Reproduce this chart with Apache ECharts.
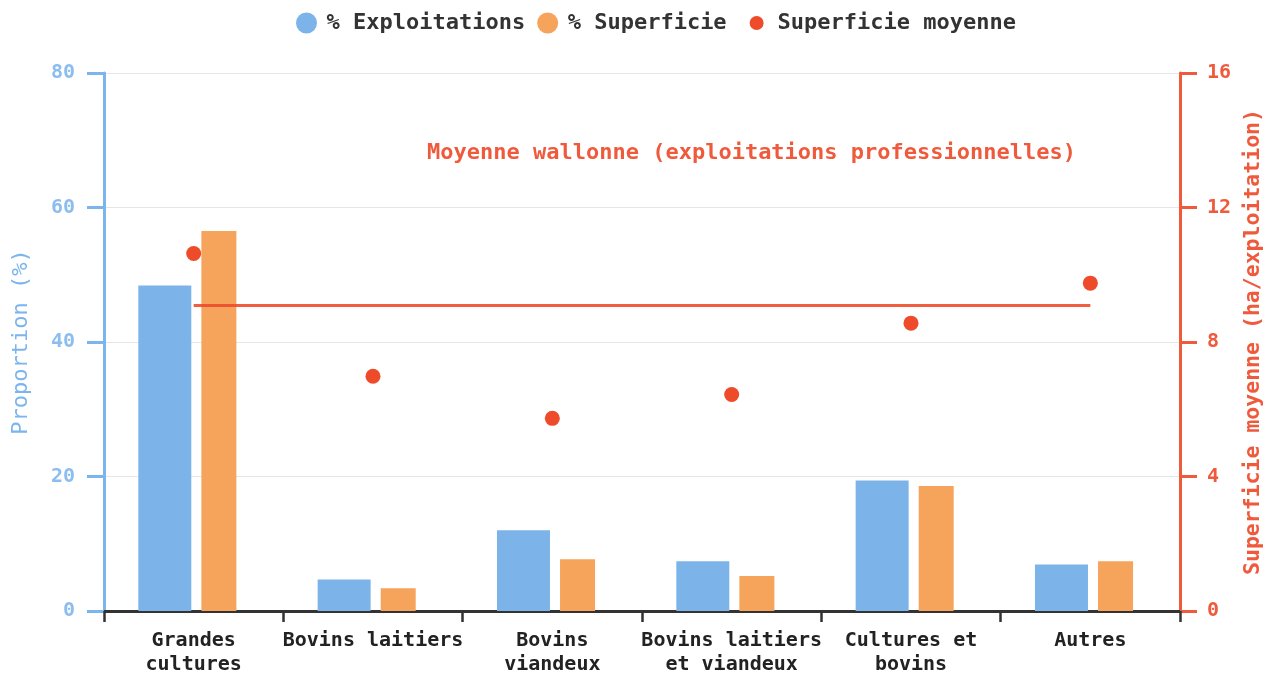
<!DOCTYPE html>
<html>
<head>
<meta charset="utf-8">
<style>
  html, body { margin: 0; padding: 0; background: #ffffff; }
  #chart { width: 1265px; height: 675px; }
</style>
<script src="https://cdn.jsdelivr.net/npm/echarts@6/dist/echarts.min.js"></script>
</head>
<body>
<div id="chart"></div>
<script>
// Orientations technico-économiques : parts des exploitations et de la superficie
const categories = [
  'Grandes\ncultures',
  'Bovins laitiers',
  'Bovins\nviandeux',
  'Bovins laitiers\net viandeux',
  'Cultures et\nbovins',
  'Autres'
];
const pctExploitations = [48.4, 4.7, 12.0, 7.4, 19.4, 6.9];
const pctSuperficie = [56.5, 3.4, 7.7, 5.2, 18.6, 7.4];
const superficieMoyenne = [10.63, 6.98, 5.73, 6.44, 8.56, 9.75];
const moyenneWallonne = 9.08;
const leftTicks = [0, 80, 20];   // min, max, interval
const rightTicks = [0, 16, 4];

const FONT = "'DejaVu Sans Mono', monospace";
const BLUE = '#7cb4ea';
const ORANGE = '#f6a35b';
const RED = '#ee4b2b';
const AXIS_BLUE = '#7cb5ec';
const AXIS_RED = '#f05a3c';

// smaller round marker for the scatter entry of the legend
const smallDot = 'image://data:image/svg+xml;utf8,' + encodeURIComponent(
  '<svg xmlns="http://www.w3.org/2000/svg" width="30" height="21" viewBox="0 0 30 21">' +
  '<circle cx="18" cy="10.5" r="7" fill="' + RED + '"/></svg>');

const chart = echarts.init(document.getElementById('chart'), null, { renderer: 'canvas' });

chart.setOption({
  animation: false,
  backgroundColor: '#ffffff',
  textStyle: { fontFamily: FONT },
  legend: {
    left: 291,
    top: 7,
    itemWidth: 30,
    itemHeight: 21,
    itemGap: 12,
    textStyle: { fontFamily: FONT, fontSize: 22, fontWeight: 'bold', color: '#333333' },
    data: [
      { name: '% Exploitations', icon: 'circle' },
      { name: '% Superficie', icon: 'circle' },
      { name: 'Superficie moyenne', icon: smallDot, textStyle: { padding: [0, 0, 0, 4] } }
    ]
  },
  grid: { left: 104, right: 85, top: 73, bottom: 64, containLabel: false, outerBoundsMode: 'none' },
  xAxis: {
    type: 'category',
    data: categories,
    boundaryGap: true,
    axisLine: { lineStyle: { color: '#333333', width: 3 } },
    axisTick: { show: true, length: 11, lineStyle: { color: '#333333', width: 2.5 } },
    axisLabel: {
      interval: 0,
      margin: 18,
      fontFamily: FONT,
      fontSize: 20,
      fontWeight: 'bold',
      color: '#222222',
      lineHeight: 24
    },
    splitLine: { show: false }
  },
  yAxis: [
    {
      type: 'value',
      min: leftTicks[0],
      max: leftTicks[1],
      interval: leftTicks[2],
      name: 'Proportion (%)',
      nameLocation: 'middle',
      nameGap: 72,
      nameTextStyle: { fontFamily: FONT, fontSize: 22, color: AXIS_BLUE },
      axisLine: { show: true, lineStyle: { color: AXIS_BLUE, width: 3 } },
      axisTick: { show: true, length: 17, lineStyle: { color: AXIS_BLUE, width: 3 } },
      axisLabel: { margin: 29, fontFamily: FONT, fontSize: 20, fontWeight: 'bold', color: '#8cbdef' },
      splitLine: { show: true, lineStyle: { color: '#e6e6e6', width: 1 } }
    },
    {
      type: 'value',
      position: 'right',
      min: rightTicks[0],
      max: rightTicks[1],
      interval: rightTicks[2],
      name: 'Superficie moyenne (ha/exploitation)',
      nameLocation: 'middle',
      nameGap: 50,
      nameTextStyle: { fontFamily: FONT, fontSize: 21.5, fontWeight: 'bold', color: AXIS_RED },
      axisLine: { show: true, lineStyle: { color: AXIS_RED, width: 3 } },
      axisTick: { show: true, length: 17, lineStyle: { color: AXIS_RED, width: 3 } },
      axisLabel: { margin: 27, fontFamily: FONT, fontSize: 20, fontWeight: 'bold', color: AXIS_RED },
      splitLine: { show: false }
    }
  ],
  series: [
    {
      name: '% Exploitations',
      type: 'bar',
      yAxisIndex: 0,
      data: pctExploitations,
      barWidth: 53,
      barGap: '19%',
      itemStyle: { color: BLUE },
      z: 2
    },
    {
      name: '% Superficie',
      type: 'bar',
      yAxisIndex: 0,
      data: pctSuperficie,
      barWidth: 35,
      barGap: '19%',
      itemStyle: { color: ORANGE },
      z: 2
    },
    {
      // empty slot that keeps the bar pair slightly left of each category centre
      name: 'spacer',
      type: 'bar',
      yAxisIndex: 0,
      data: categories.map(() => '-'),
      barWidth: 6,
      barGap: '19%',
      silent: true,
      itemStyle: { color: 'transparent' }
    },
    {
      name: 'Superficie moyenne',
      type: 'scatter',
      yAxisIndex: 1,
      data: superficieMoyenne,
      symbol: 'circle',
      symbolSize: 15,
      itemStyle: { color: RED, opacity: 1 },
      z: 5,
      markLine: {
        silent: true,
        symbol: ['none', 'none'],
        label: { show: false },
        lineStyle: { color: RED, width: 3, type: 'solid', opacity: 0.9 },
        data: [[
          { coord: [0, moyenneWallonne] },
          { coord: [categories.length - 1, moyenneWallonne] }
        ]]
      }
    }
  ],
  graphic: [
    {
      type: 'text',
      left: 427,
      top: 142,
      z: 10,
      style: {
        text: 'Moyenne wallonne (exploitations professionnelles)',
        font: 'bold 22px ' + FONT,
        fill: AXIS_RED
      }
    }
  ]
});
</script>
</body>
</html>
